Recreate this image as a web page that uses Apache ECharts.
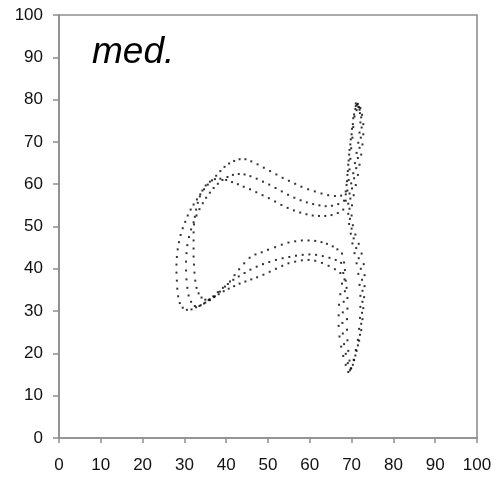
<!DOCTYPE html>
<html>
<head>
<meta charset="utf-8">
<title>med.</title>
<script src="https://cdn.jsdelivr.net/npm/echarts@6/dist/echarts.min.js"></script>
<style>
  html, body { margin: 0; padding: 0; background: #fff; }
  #container { width: 501px; height: 479px; }
</style>
</head>
<body>
<div id="container"></div>
<script>
// dots, three passes of the curve (outer, middle, inner)
var loopOuter = [
  [71,78.5],[71.5,79],[71.8,78.2],[71.2,77.5],
  [70.6,76.5],[70.3,74.2],[70.0,71.8],[69.7,69.4],[69.4,67],[69.2,64.6],[69.0,62.2],[68.8,59.8],[68.6,57.6],
  [67.5,57.3],[66,57.2],[64.4,57.4],[62.8,57.8],[61.2,58.3],[59.6,58.8],[58,59.4],[56.5,60.1],[55,60.8],
  [53.5,61.5],[52,62.3],[50.5,63.1],[49,63.9],[47.5,64.7],[46,65.4],[44.6,65.9],[43.2,65.9],[41.9,65.5],
  [40.7,64.9],[39.6,64.1],[38.6,63.1],[37.6,62],[36.6,60.9],[35.6,59.9],[34.7,58.8],[33.8,57.6],[33,56.4],
  [32.2,55.2],[31.5,54],[30.8,52.6],[30.2,51.1],[29.6,49.6],[29.1,48],[28.7,46.3],[28.4,44.6],[28.2,42.8],
  [28.1,41],[28.1,39.1],[28.2,37.2],[28.3,35.3],[28.5,33.5],[28.9,31.9],[29.6,30.8],[30.6,30.3],[31.7,30.4],
  [32.8,30.9],[33.9,31.4],[35,32],[36.1,32.6],[37.3,33.5],[38.5,34.6],[39.7,35.8],[40.9,37],[42,38.5],
  [43.1,39.9],[44.3,41.3],[45.6,42.6],[47,43.4],[48.5,43.9],[50,44.5],[51.7,45.1],[53.3,45.7],[54.9,46.2],
  [56.5,46.5],[58.1,46.7],[59.7,46.7],[61.3,46.6],[62.8,46.3],[64.1,45.9],[65.5,45.3],[66.6,44.6],[67.7,43.6],
  [68.2,41.5],[68,39],[67.7,36.5],[67.3,34],[67,31.5],[66.9,29],[66.9,26.5],[67.1,24],[67.5,21.6],[68,19.4],
  [68.6,17.3],[69.2,15.6],
  [69.9,16.5],[70.6,18.4],[71.2,20.6],[71.8,23],[72.3,25.5],[72.6,28.1],[72.8,30.7],[73,33.3],[73.1,35.9],
  [73.1,38.5],[72.9,41.1],[72.4,43.6],[71.7,45.9],[70.9,48.1],[70.3,50.3],[70,52.6],[70.1,55],[70.5,57.4],
  [71,59.8],[71.5,62.2],[71.9,64.6],[72.3,67],[72.6,69.4],[72.8,71.8],[72.8,74.2],[72.5,76.4],[72.1,78]
];

var loopMiddle = [
  [71.3,78.8],[70.9,77.8],
  [70.4,75.6],[70.1,73.1],[69.8,70.6],[69.5,68.1],[69.3,65.6],[69.1,63.1],[68.9,60.7],[68.6,58.3],[68.2,56.1],
  [66.8,55.3],[65.3,54.9],[63.8,54.8],[62.3,55],[60.8,55.3],[59.3,55.7],[57.8,56.2],[56.3,56.8],[54.8,57.5],
  [53.3,58.3],[51.8,59.1],[50.3,59.9],[48.8,60.6],[47.3,61.3],[45.8,61.9],[44.4,62.3],[43,62.4],[41.6,62.2],
  [40.3,61.7],[39.1,61],[38,60.1],[37,59.1],[36.1,58],[35.2,56.8],[34.4,55.5],[33.6,54.1],[32.9,52.6],
  [32.2,51],[31.6,49.3],[31.1,47.5],[30.7,45.6],[30.5,43.7],[30.4,41.7],[30.4,39.6],[30.5,37.5],[30.7,35.5],
  [31,33.7],[31.6,32.2],[32.5,31.2],[33.6,31.2],[34.7,31.8],[35.8,32.6],[36.9,33.5],[38,34.5],[39.2,35.5],
  [40.4,36.4],[41.7,37.4],[43,38.2],[44.4,39],[45.8,39.8],[47.3,40.5],[48.8,41.1],[50.3,41.6],[51.9,42.1],
  [53.5,42.5],[55.1,42.8],[56.7,43.1],[58.3,43.3],[59.9,43.4],[61.5,43.3],[63.1,43],[64.7,42.6],[66.2,42.1],
  [67.5,41.4],
  [68.4,39.7],[68.6,37.2],[68.4,34.7],[68.1,32.2],[67.9,29.7],[67.8,27.2],[67.9,24.7],[68.2,22.2],[68.6,19.9],
  [69.1,17.7],[69.6,16],
  [70.3,17.3],[70.9,19.5],[71.5,21.9],[72,24.4],[72.3,27],[72.5,29.6],[72.6,32.2],[72.6,34.8],[72.5,37.4],
  [72.2,40],[71.7,42.5],[71.1,44.9],[70.5,47.2],[70,49.5],[69.6,51.8],[69.5,54.2],[69.7,56.6],[70.1,59],
  [70.6,61.4],[71.1,63.8],[71.5,66.2],[71.9,68.6],[72.2,71],[72.4,73.4],[72.3,75.8],[71.9,77.6]
];

var loopInner = [
  [71.6,78.3],[71,79.1],
  [70.7,76],[70.4,73.5],[70.2,71],[69.9,68.5],[69.7,66],[69.5,63.5],[69.3,61],[69,58.5],[68.6,56.1],[68,54],
  [66.7,53.2],[65.2,52.7],[63.7,52.5],[62.2,52.5],[60.7,52.6],[59.2,52.9],[57.7,53.3],[56.2,53.8],[54.7,54.4],
  [53.2,55.1],[51.7,55.9],[50.2,56.7],[48.7,57.4],[47.2,58.1],[45.7,58.8],[44.2,59.4],[42.8,60],[41.4,60.5],
  [40,61],[38.6,61.3],[37.3,61.2],[36.1,60.6],[35.1,59.7],[34.3,58.5],[33.7,57.1],[33.2,55.6],[32.8,54],
  [32.5,52.3],[32.3,50.5],[32.2,48.6],[32.2,46.7],[32.2,44.8],[32.2,42.9],[32.3,41],[32.4,39.1],[32.6,37.2],
  [32.9,35.5],[33.4,34.2],[34.1,33.2],[35,32.7],[36,32.8],[37.1,33.3],[38.2,34],[39.4,34.7],[40.6,35.3],
  [41.9,35.9],[43.2,36.5],[44.6,37],[46,37.5],[47.4,38],[48.9,38.6],[50.4,39.3],[51.9,40],[53.4,40.7],
  [54.9,41.3],[56.5,41.7],[58.1,42],[59.7,42.1],[61.3,41.9],[62.9,41.4],[64.5,40.7],[66,39.9],[67.3,39],
  [68.3,37.5],[68.8,35.5],[69,33.1],[69,30.6],[68.9,28.1],[68.9,25.6],[69,23.1],[69.2,20.6],[69.5,18.3],
  [69.8,16.4],
  [70.5,18.5],[71,20.8],[71.5,23.2],[71.8,25.8],[72,28.4],[72.1,31],[72.1,33.6],[71.9,36.2],[71.6,38.8],
  [71.2,41.3],[70.7,43.7],[70.2,46],[69.8,48.3],[69.4,50.6],[69.2,53],[69.2,55.4],[69.5,57.8],[69.9,60.2],
  [70.4,62.6],[70.8,65],[71.2,67.4],[71.6,69.8],[71.9,72.2],[72.1,74.6],[72,76.8]
];

var axisMin = 0, axisMax = 100, axisStep = 10;
var panelLabel = 'med.';

var chart = echarts.init(document.getElementById('container'), null, { renderer: 'canvas' });

var axisGray = '#8e8e8e';
var labelFont = { color: '#111', fontFamily: 'Liberation Sans, Arial, sans-serif', fontSize: 17 };

function dotSeries(data) {
  return {
    type: 'scatter',
    data: data,
    symbol: 'rect',
    symbolSize: 2,
    itemStyle: { color: '#000' },
    silent: true
  };
}

var option = {
  animation: false,
  backgroundColor: '#fff',
  grid: {
    left: 59, right: 24, top: 15, bottom: 41,
    show: true, borderColor: axisGray, borderWidth: 1.6
  },
  xAxis: {
    type: 'value', min: axisMin, max: axisMax, interval: axisStep,
    axisLine: { show: true, lineStyle: { color: axisGray, width: 1.6 } },
    axisTick: { show: true, inside: false, length: 5, lineStyle: { color: axisGray, width: 1.5 } },
    axisLabel: Object.assign({ margin: 19 }, labelFont),
    splitLine: { show: false }
  },
  yAxis: {
    type: 'value', min: axisMin, max: axisMax, interval: axisStep,
    axisLine: { show: true, lineStyle: { color: axisGray, width: 1.6 } },
    axisTick: { show: true, inside: false, length: 6, lineStyle: { color: axisGray, width: 1.5 } },
    axisLabel: Object.assign({ margin: 16 }, labelFont),
    splitLine: { show: false }
  },
  graphic: [{
    type: 'text',
    left: 92, top: 34,
    style: {
      text: panelLabel,
      fill: '#000',
      font: 'italic 37px "Liberation Sans", Arial, sans-serif'
    }
  }],
  series: [dotSeries(loopOuter), dotSeries(loopMiddle), dotSeries(loopInner)]
};

chart.setOption(option);
</script>
</body>
</html>
